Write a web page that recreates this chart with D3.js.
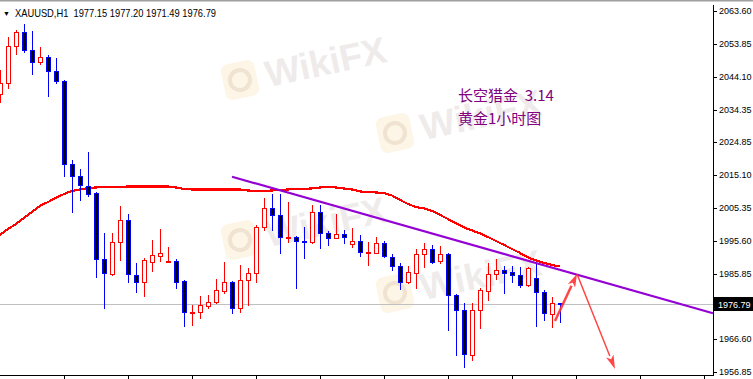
<!DOCTYPE html>
<html>
<head>
<meta charset="utf-8">
<script src="https://cdn.jsdelivr.net/npm/d3@7"></script>
<style>
  body { margin: 0; background: #fff; overflow: hidden; }
  svg { display: block; }
</style>
</head>
<body>
<svg></svg>
<script>
// XAUUSD H1 candles, oldest first (one bar every 8 px)
var opens = [2038.95, 2042.20, 2053.13, 2057.26, 2051.94, 2048.41, 2049.88, 2045.75, 2042.79, 2018.28,
  2014.73, 2011.79, 2009.71, 1990.22, 1985.79, 1995.24, 2001.74, 1985.50, 1983.43, 1989.34,
  1991.10, 1989.55, 1989.62, 1983.73, 1974.57, 1974.57, 1976.34, 1977.53, 1980.76, 1983.43,
  1975.75, 1984.02, 1986.09, 1999.67, 2005.28, 2003.22, 1996.62, 1996.72, 1995.53, 1995.24,
  2004.10, 1997.90, 1996.42, 1997.61, 1994.64, 1995.53, 1992.29, 1992.00, 1994.94, 1990.81,
  1988.16, 1983.43, 1986.09, 1991.70, 1993.17, 1989.62, 1991.70, 1979.59, 1975.17, 1961.87,
  1975.17, 1980.76, 1985.79, 1986.97, 1986.39, 1985.50, 1982.54, 1984.61, 1980.48, 1973.98,
  1977.15];
var highs = [2046.04, 2055.79, 2057.85, 2059.63, 2057.55, 2052.83, 2050.47, 2049.58, 2043.00, 2019.46,
  2016.80, 2021.82, 2010.00, 1997.89, 1997.90, 2005.88, 2003.51, 1989.04, 1990.52, 1995.83,
  1999.09, 1993.77, 1990.22, 1984.05, 1976.64, 1979.29, 1979.59, 1984.31, 1989.34, 1983.60,
  1988.45, 1987.56, 2000.27, 2008.24, 2009.41, 2009.41, 2007.05, 1996.90, 1999.67, 2006.17,
  2006.17, 1998.50, 2003.51, 1998.80, 1999.41, 1997.33, 1995.24, 1996.72, 1995.53, 1991.71,
  1989.04, 1988.16, 1993.17, 1994.94, 1994.34, 1994.04, 1992.00, 1979.89, 1977.23, 1977.23,
  1981.65, 1989.04, 1990.22, 1988.16, 1988.16, 1987.86, 1987.86, 1989.04, 1981.06, 1979.00,
  1977.20];
var lows = [2036.58, 2040.72, 2050.77, 2051.35, 2044.86, 2047.81, 2038.36, 2042.20, 2014.73, 2004.10,
  2007.65, 2008.82, 1984.90, 1975.75, 1985.50, 1989.92, 1983.43, 1980.48, 1979.29, 1986.67,
  1989.63, 1989.30, 1981.65, 1970.43, 1970.73, 1972.79, 1975.75, 1977.26, 1980.17, 1974.28,
  1974.57, 1976.64, 1983.43, 1998.79, 1998.79, 1992.00, 1995.24, 1981.65, 1990.52, 1994.94,
  1993.47, 1994.36, 1996.32, 1994.94, 1993.76, 1991.10, 1988.45, 1991.90, 1990.81, 1986.97,
  1981.36, 1983.13, 1981.65, 1987.86, 1989.04, 1989.04, 1969.26, 1961.87, 1958.33, 1960.40,
  1969.84, 1978.11, 1984.31, 1980.17, 1983.43, 1981.95, 1982.24, 1970.43, 1972.21, 1970.13,
  1971.49];
var closes = [2042.20, 2053.13, 2057.26, 2051.94, 2048.41, 2049.88, 2045.75, 2042.79, 2018.28, 2014.73,
  2012.07, 2009.41, 1990.22, 1986.09, 1995.24, 2001.74, 1985.79, 1983.43, 1989.92, 1991.40,
  1992.00, 1989.65, 1983.43, 1974.57, 1974.62, 1976.64, 1977.53, 1981.06, 1983.43, 1975.75,
  1984.02, 1986.09, 1999.67, 2005.28, 2003.22, 1996.72, 1996.82, 1995.53, 1995.24, 2004.10,
  1997.90, 1996.42, 1997.61, 1996.72, 1995.53, 1992.29, 1992.39, 1994.94, 1991.10, 1988.16,
  1983.43, 1986.39, 1991.70, 1993.17, 1989.34, 1991.70, 1979.59, 1975.17, 1962.16, 1975.17,
  1981.06, 1985.79, 1986.97, 1986.09, 1985.50, 1982.54, 1987.56, 1980.48, 1974.28, 1977.23,
  1976.79];
// red moving average, one value per bar
var maValues = [1997.31, 1999.08, 2000.55, 2002.33, 2004.10, 2005.88, 2007.05, 2008.24, 2009.41, 2010.30,
  2010.75, 2011.19, 2011.34, 2011.49, 2011.49, 2011.49, 2011.64, 2011.64, 2011.64, 2011.64,
  2011.64, 2011.64, 2011.34, 2010.90, 2010.75, 2010.75, 2010.75, 2010.75, 2010.75, 2010.75,
  2010.75, 2010.45, 2010.30, 2010.30, 2010.45, 2010.60, 2010.75, 2010.90, 2010.90, 2011.05,
  2011.34, 2011.49, 2011.34, 2011.05, 2010.75, 2010.16, 2010.01, 2009.86, 2009.71, 2008.97,
  2007.65, 2006.46, 2005.58, 2005.14, 2004.40, 2003.22, 2002.03, 2000.71, 1999.53, 1998.64,
  1997.76, 1996.72, 1995.53, 1994.36, 1993.17, 1992.00, 1990.67, 1989.78, 1989.04, 1988.45,
  1988.01];

var priceTicks = [2063.60, 2053.85, 2044.10, 2034.35, 2024.85, 2015.10, 2005.35, 1995.60, 1985.85, 1966.60, 1956.85];
var lastPrice = 1976.79;
var headerText = "XAUUSD,H1  1977.15 1977.20 1971.49 1976.79";
var noteLines = ["长空猎金  3.14", "黄金1小时图"];

// purple trend line and the two red arrows (bar index, price)
var trendIdx = [29, 89.125];
var trendPrice = [2014.52, 1974.18];
var upArrowIdx = [69.375, 72.125];
var upArrowPrice = [1971.91, 1985.79];
var downArrowIdx = [72.125, 76.875];
var downArrowPrice = [1985.79, 1957.73];

var W = 753, H = 379;
var plotRight = 713, plotBottom = 375;

var svg = d3.select("svg").attr("width", W).attr("height", H);

var x = d3.scaleLinear().domain([0, 89.125]).range([0, plotRight]);
var y = d3.scaleLinear().domain([1956.85, 2063.60]).range([372, 10.5]);

// watermarks
var marks = [[240, 80], [395, 133], [240, 240], [395, 293]];
var wm = svg.append("g");
marks.forEach(function(m) {
  var g = wm.append("g").attr("transform", "translate(" + m[0] + "," + m[1] + ") rotate(-12)");
  g.append("rect").attr("x", -17).attr("y", -18).attr("width", 34).attr("height", 36)
    .attr("rx", 7).style("fill", "#fcebcb").style("opacity", 0.5);
  g.append("circle").attr("cx", 0).attr("cy", 0).attr("r", 10)
    .style("fill", "none").style("stroke", "#eadccb").style("stroke-width", 4).style("opacity", 0.7);
  g.append("text").attr("x", 26).attr("y", 13).text("WikiFX")
    .style("font-family", "Arial, 'Liberation Sans', sans-serif").style("font-weight", "bold")
    .style("font-size", "37px").style("fill", "#e6dfdf").style("opacity", 0.6);
});

// current price line
svg.append("line")
  .attr("x1", 0).attr("x2", plotRight)
  .attr("y1", Math.round(y(lastPrice)) + 0.5).attr("y2", Math.round(y(lastPrice)) + 0.5)
  .style("stroke", "#c0c0c0").style("stroke-width", 1);

// moving average
var maLine = d3.line().x(function(d, i) { return x(i); }).y(function(d) { return y(d); });
svg.append("path").datum(maValues).attr("d", maLine)
  .style("fill", "none").style("stroke", "#ff0000").style("stroke-width", 2.2)
  .style("shape-rendering", "crispEdges");

// candles
var bars = d3.range(opens.length).map(function(i) {
  return { i: i, o: opens[i], h: highs[i], l: lows[i], c: closes[i] };
});
var candle = svg.append("g").selectAll("g").data(bars).enter().append("g")
  .style("shape-rendering", "crispEdges");

candle.append("line")
  .attr("x1", function(d) { return Math.round(x(d.i)) + 0.5; })
  .attr("x2", function(d) { return Math.round(x(d.i)) + 0.5; })
  .attr("y1", function(d) { return Math.round(y(d.h)); })
  .attr("y2", function(d) { return Math.round(y(d.l)) + 1; })
  .style("stroke", function(d) { return d.c >= d.o ? "#ff0000" : "#0000ff"; })
  .style("stroke-width", 1);

candle.append("rect")
  .attr("x", function(d) { return Math.round(x(d.i)) - 2 + 0.5; })
  .attr("y", function(d) { return Math.round(y(Math.max(d.o, d.c))) + 0.5; })
  .attr("width", 4)
  .attr("height", function(d) {
    return Math.max(1, Math.round(y(Math.min(d.o, d.c))) - Math.round(y(Math.max(d.o, d.c))));
  })
  .style("fill", function(d) { return d.c >= d.o ? "#ffffff" : "#000000"; })
  .style("stroke", function(d) { return d.c >= d.o ? "#ff0000" : "#0000ff"; })
  .style("stroke-width", 1);

// trend line
svg.append("line")
  .attr("x1", x(trendIdx[0])).attr("y1", y(trendPrice[0]))
  .attr("x2", x(trendIdx[1])).attr("y2", y(trendPrice[1]))
  .style("stroke", "#9400d3").style("stroke-width", 2.2);

// arrows
function arrow(idx, price, width, headLen, headHalf) {
  var x0 = x(idx[0]), y0 = y(price[0]), x1 = x(idx[1]), y1 = y(price[1]);
  var dx = x1 - x0, dy = y1 - y0, len = Math.sqrt(dx * dx + dy * dy);
  var ux = dx / len, uy = dy / len;
  var bx = x1 - ux * headLen, by = y1 - uy * headLen;
  svg.append("line").attr("x1", x0).attr("y1", y0).attr("x2", bx).attr("y2", by)
    .style("stroke", "#ff3333").style("stroke-width", width).style("opacity", 0.9);
  svg.append("path")
    .attr("d", "M" + x1 + "," + y1 +
      "L" + (bx - uy * headHalf) + "," + (by + ux * headHalf) +
      "L" + (x1 - ux * headLen * 0.75) + "," + (y1 - uy * headLen * 0.75) +
      "L" + (bx + uy * headHalf) + "," + (by - ux * headHalf) + "Z")
    .style("fill", "#ff3333").style("opacity", 0.9);
}
arrow(upArrowIdx, upArrowPrice, 2.5, 13, 4);
arrow(downArrowIdx, downArrowPrice, 1.5, 14, 4);

// frame
svg.append("line").attr("x1", 0).attr("x2", W).attr("y1", 0.5).attr("y2", 0.5)
  .style("stroke", "#a0a0a0").style("stroke-width", 2);
svg.append("line").attr("x1", plotRight + 0.5).attr("x2", plotRight + 0.5).attr("y1", 5).attr("y2", plotBottom + 1)
  .style("stroke", "#000").style("stroke-width", 1);
svg.append("line").attr("x1", 0).attr("x2", plotRight + 1).attr("y1", plotBottom + 0.5).attr("y2", plotBottom + 0.5)
  .style("stroke", "#000").style("stroke-width", 1);

// price axis
var yAxis = d3.axisRight(y).tickValues(priceTicks).tickFormat(d3.format(".2f")).tickSize(3).tickPadding(2);
var ya = svg.append("g").attr("transform", "translate(" + (plotRight + 1) + ",0)").call(yAxis);
ya.select(".domain").remove();
ya.selectAll("line").style("stroke", "#000").style("shape-rendering", "crispEdges");
ya.selectAll("text").style("font-family", "'Liberation Sans', Arial, sans-serif").style("font-size", "9px")
  .style("fill", "#000");

// time axis ticks
var xAxis = d3.axisBottom(x).tickValues(d3.range(8, 89, 8)).tickFormat("").tickSize(4).tickSizeOuter(0);
var xa = svg.append("g").attr("transform", "translate(0," + plotBottom + ")").call(xAxis);
xa.select(".domain").remove();
xa.selectAll("line").style("stroke", "#000").style("shape-rendering", "crispEdges");

// last price tag
var ly = Math.round(y(lastPrice));
svg.append("rect").attr("x", plotRight + 1).attr("y", ly - 7).attr("width", W - plotRight - 1).attr("height", 14)
  .style("fill", "#000");
svg.append("text").attr("x", plotRight + 5).attr("y", ly + 4).text(d3.format(".2f")(lastPrice))
  .style("font-family", "'Liberation Sans', Arial, sans-serif").style("font-size", "9px").style("fill", "#fff");

// header
svg.append("text").attr("x", 3).attr("y", 16).text("▼")
  .style("font-size", "7px").style("fill", "#000");
svg.append("text").attr("x", 15).attr("y", 17).text(headerText)
  .attr("textLength", 201).attr("lengthAdjust", "spacingAndGlyphs")
  .style("font-family", "Tahoma, 'Liberation Sans', sans-serif").style("font-size", "10.5px").style("fill", "#000")
  .style("white-space", "pre");

// note
svg.append("g").selectAll("text").data(noteLines).enter().append("text")
  .attr("x", 458).attr("y", function(d, i) { return 101 + i * 23; })
  .text(function(d) { return d; })
  .style("font-family", "'Noto Sans CJK SC', sans-serif").style("font-size", "15px")
  .style("fill", "#800080").style("white-space", "pre");
</script>
</body>
</html>
